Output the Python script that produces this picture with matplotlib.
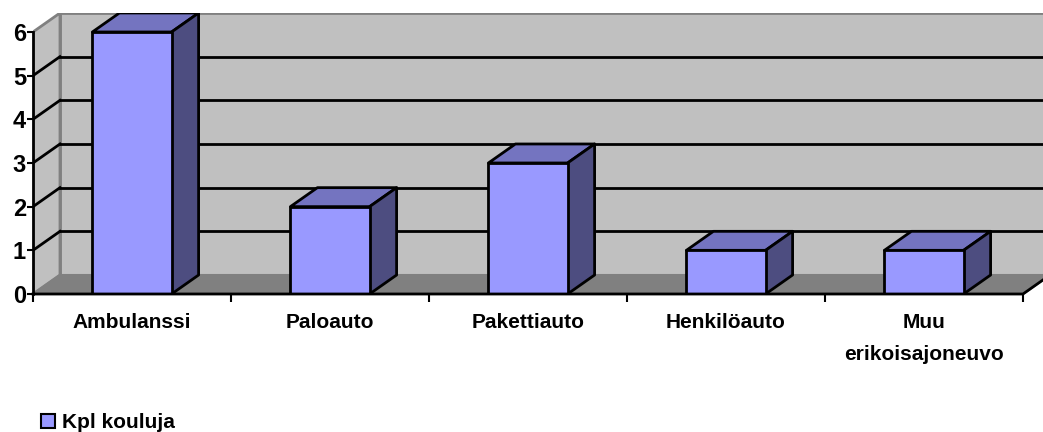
import matplotlib.pyplot as plt
from matplotlib.patches import Polygon, Patch

categories = ['Ambulanssi', 'Paloauto', 'Pakettiauto', 'Henkilöauto', 'Muu\nerikoisajoneuvo']
values = [6, 2, 3, 1, 1]
yticks = [0, 1, 2, 3, 4, 5, 6]
series_name = 'Kpl kouluja'

plt.rcParams['font.family'] = ['Liberation Sans', 'DejaVu Sans']
plt.rcParams['font.weight'] = 'bold'

# depth of the fake 3d box, in data units
dx = 27 / 198
dy = 19 / 43.67
n = len(categories)
ymax = max(yticks)
bw = 0.4

fig = plt.figure(figsize=(10.43, 4.32), dpi=100)
ax = fig.add_axes([33 / 1043, 138 / 432, (n + dx) * 198 / 1043, (ymax + dy) * 43.67 / 432])
ax.set_xlim(0, n + dx)
ax.set_ylim(0, ymax + dy)
ax.patch.set_visible(False)
for s in ax.spines.values():
    s.set_visible(False)

wall = '#C0C0C0'
floor = '#808080'
edge = '#808080'

# back wall, side wall, floor
ax.add_patch(Polygon([(dx, dy), (n + dx, dy), (n + dx, ymax + dy), (dx, ymax + dy)],
                     closed=True, fc=wall, ec=edge, lw=2, zorder=1))
ax.add_patch(Polygon([(0, 0), (dx, dy), (dx, ymax + dy), (0, ymax)],
                     closed=True, fc=wall, ec=edge, lw=2, zorder=1))
ax.add_patch(Polygon([(0, 0), (n, 0), (n + dx, dy), (dx, dy)],
                     closed=True, fc=floor, ec=edge, lw=1.5, zorder=1, clip_on=False))

# gridlines
for v in yticks[1:-1]:
    ax.plot([dx, n + dx], [v + dy, v + dy], color='black', lw=2, zorder=2)
    ax.plot([0, dx], [v, v + dy], color='black', lw=2, zorder=2)

# bars
front_c = '#9999FF'
top_c = '#7474C0'
side_c = '#4D4D80'
for i, v in enumerate(values):
    x0 = i + 0.5 - bw / 2
    x1 = i + 0.5 + bw / 2
    ax.add_patch(Polygon([(x0, 0), (x1, 0), (x1, v), (x0, v)], closed=True,
                         fc=front_c, ec='black', lw=2, joinstyle='round', zorder=4))
    ax.add_patch(Polygon([(x0, v), (x1, v), (x1 + dx, v + dy), (x0 + dx, v + dy)], closed=True,
                         fc=top_c, ec='black', lw=2, joinstyle='round', zorder=3))
    ax.add_patch(Polygon([(x1, 0), (x1 + dx, dy), (x1 + dx, v + dy), (x1, v)], closed=True,
                         fc=side_c, ec='black', lw=2, joinstyle='round', zorder=3))

# front axis lines
ax.plot([0, 0], [0, ymax], color='black', lw=2, zorder=5, clip_on=False)
ax.plot([0, n, n + dx], [0, 0, dy], color='black', lw=2, zorder=5, clip_on=False)

ax.set_yticks(yticks)
ax.set_yticklabels([str(t) for t in yticks], fontsize=17, fontweight='bold')
ax.tick_params(axis='y', length=4, width=1.5, pad=1)

ax.set_xticks([i + 0.5 for i in range(n)])
ax.set_xticklabels(categories, fontsize=15, fontweight='bold', va='top')
ax.set_xticks(range(n + 1), minor=True)
ax.tick_params(axis='x', which='major', length=0, pad=14)
ax.tick_params(axis='x', which='minor', length=6, width=1.5)
for lab in ax.get_xticklabels():
    lab.set_linespacing(1.85)

fig.legend(handles=[Patch(fc=front_c, ec='black', lw=1.5, label=series_name)],
           loc='lower left', bbox_to_anchor=(22 / 1043, -19 / 432), frameon=False,
           prop={'size': 15, 'weight': 'bold'}, handlelength=0.7, handleheight=0.7,
           handletextpad=0.3)

fig.savefig('out.png', dpi=100)
